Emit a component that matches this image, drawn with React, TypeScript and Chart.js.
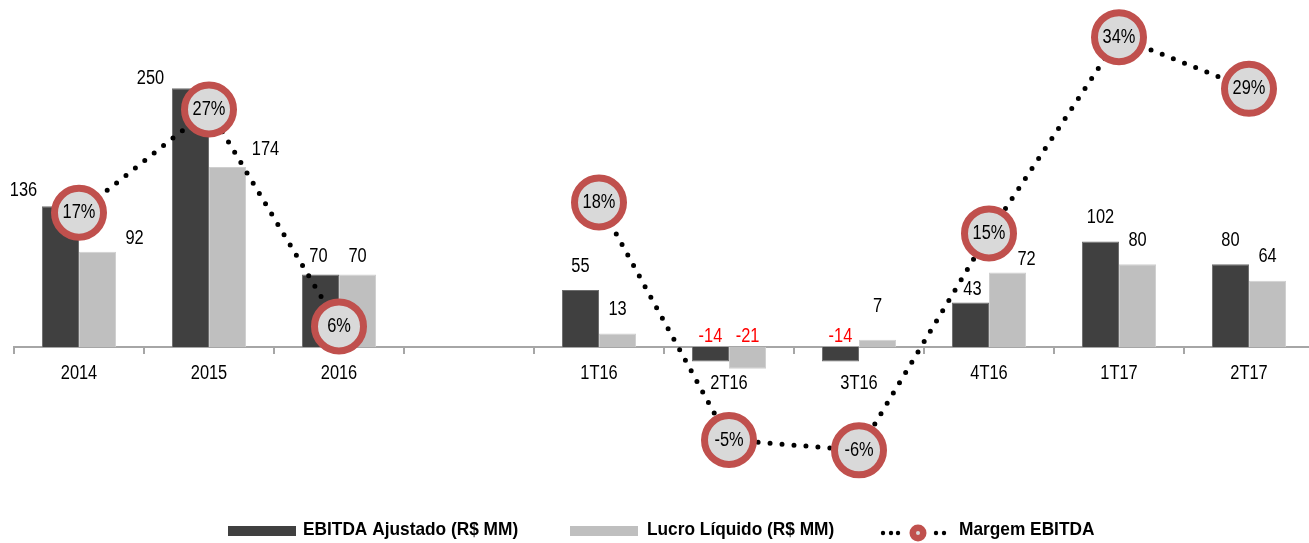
import { useEffect, useRef } from "react";
import { Chart, registerables } from "chart.js";

Chart.register(...registerables);

// Categories (an empty slot separates the annual and quarterly groups)
const categories = ["2014", "2015", "2016", "", "1T16", "2T16", "3T16", "4T16", "1T17", "2T17"];
// EBITDA Ajustado (R$ MM)
const ebitdaAjustado: (number | null)[] = [136, 250, 70, null, 55, -14, -14, 43, 102, 80];
// Lucro Líquido (R$ MM)
const lucroLiquido: (number | null)[] = [92, 174, 70, null, 13, -21, 7, 72, 80, 64];
// Margem EBITDA (%)
const margemEbitda: (number | null)[] = [17, 27, 6, null, 18, -5, -6, 15, 34, 29];

const legendLabels = ["EBITDA Ajustado (R$ MM)", "Lucro Líquido (R$ MM)", "Margem EBITDA"];

const FONT = '"Liberation Sans", Arial, sans-serif';
const DARK = "#404040";
const LIGHT = "#bfbfbf";
const RING = "#c0504d";
const DISC = "#d9d9d9";

// Hand placement of a few value labels so they clear the margin markers
const labelNudge: Record<string, [number, number]> = {
  "0-0": [-37, 8],
  "1-0": [37, 11],
  "0-1": [-40, 14],
  "1-1": [38, 7],
  "0-2": [-2, 6],
  "1-2": [0, 6],
  "1-6": [0, -9],
  "0-7": [2, 11],
  "1-7": [19, 11],
};

// Draw text horizontally condensed (narrow face look)
function condensedText(ctx: CanvasRenderingContext2D, text: string, x: number, y: number, sx: number) {
  ctx.save();
  ctx.translate(x, y);
  ctx.scale(sx, 1);
  ctx.fillText(text, 0, 0);
  ctx.restore();
}

const labelsPlugin = {
  id: "valueLabels",
  afterDatasetsDraw(chart: any) {
    const ctx: CanvasRenderingContext2D = chart.ctx;
    const xScale = chart.scales.x;
    const zero = chart.scales.y.getPixelForValue(0);
    const series = [ebitdaAjustado, lucroLiquido];
    const sx = 0.82;
    ctx.save();
    ctx.font = `20px ${FONT}`;
    ctx.textAlign = "center";
    ctx.textBaseline = "middle";

    series.forEach((values, di) => {
      const meta = chart.getDatasetMeta(di);
      meta.data.forEach((bar: any, i: number) => {
        const v = values[i];
        if (v == null) return;
        const [dx, dy] = labelNudge[`${di}-${i}`] || [0, 0];
        const y = v < 0 ? zero - 11 : bar.y - 24;
        ctx.fillStyle = v < 0 ? "#ff0000" : "#000000";
        condensedText(ctx, String(v), bar.x + dx, y + dy, sx);
      });
    });

    // category names under the axis; pushed lower where bars go negative
    ctx.fillStyle = "#000000";
    categories.forEach((c, i) => {
      if (!c) return;
      const neg = (ebitdaAjustado[i] ?? 0) < 0 || (lucroLiquido[i] ?? 0) < 0;
      condensedText(ctx, c, xScale.getPixelForValue(i), zero + 26 + (neg ? 10 : 0), sx);
    });

    // percentages inside the margin markers
    const lineMeta = chart.getDatasetMeta(2);
    lineMeta.data.forEach((pt: any, i: number) => {
      const v = margemEbitda[i];
      if (v == null) return;
      condensedText(ctx, `${v}%`, pt.x, pt.y, sx);
    });
    ctx.restore();
  },
  afterDraw(chart: any) {
    const ctx: CanvasRenderingContext2D = chart.ctx;
    const sx = 0.91;
    ctx.save();
    ctx.font = `bold 19px ${FONT}`;
    ctx.textAlign = "left";
    ctx.textBaseline = "alphabetic";

    // bar swatches
    ctx.fillStyle = DARK;
    ctx.fillRect(228, 526, 68, 10);
    ctx.fillStyle = LIGHT;
    ctx.fillRect(570, 526, 68, 10);
    ctx.fillStyle = "#000000";
    condensedText(ctx, legendLabels[0], 303, 535, sx);
    condensedText(ctx, legendLabels[1], 647, 535, sx);

    // dotted line swatch with marker
    const cy = 533;
    [883, 891, 898, 936, 944].forEach((x) => {
      ctx.beginPath();
      ctx.arc(x, cy, 2.2, 0, Math.PI * 2);
      ctx.fillStyle = "#000000";
      ctx.fill();
    });
    ctx.beginPath();
    ctx.arc(918, cy, 8.5, 0, Math.PI * 2);
    ctx.fillStyle = RING;
    ctx.fill();
    ctx.beginPath();
    ctx.arc(918, cy, 2, 0, Math.PI * 2);
    ctx.fillStyle = DISC;
    ctx.fill();

    ctx.fillStyle = "#000000";
    condensedText(ctx, legendLabels[2], 959, 535, sx);
    ctx.restore();
  },
};

export default function App() {
  const canvasRef = useRef<HTMLCanvasElement | null>(null);

  useEffect(() => {
    const canvas = canvasRef.current;
    if (!canvas) return;
    const chart = new Chart(canvas, {
      type: "bar",
      data: {
        labels: categories,
        datasets: [
          {
            type: "bar",
            label: legendLabels[0],
            data: ebitdaAjustado,
            backgroundColor: DARK,
            borderColor: "#6e6e6e",
            borderWidth: 1,
            yAxisID: "y",
            order: 1,
            categoryPercentage: 0.57,
            barPercentage: 1,
          },
          {
            type: "bar",
            label: legendLabels[1],
            data: lucroLiquido,
            backgroundColor: LIGHT,
            borderColor: "#cfcfcf",
            borderWidth: 1,
            yAxisID: "y",
            order: 1,
            categoryPercentage: 0.57,
            barPercentage: 1,
          },
          {
            type: "line",
            label: legendLabels[2],
            data: margemEbitda,
            yAxisID: "y1",
            order: 0,
            borderColor: "#000000",
            borderWidth: 5,
            borderDash: [0, 12],
            borderCapStyle: "round",
            spanGaps: false,
            tension: 0,
            fill: false,
            pointRadius: 24.5,
            pointHoverRadius: 24.5,
            pointBorderWidth: 7,
            pointHoverBorderWidth: 7,
            pointBackgroundColor: DISC,
            pointBorderColor: RING,
            clip: false,
          } as any,
        ],
      },
      options: {
        animation: false,
        responsive: false,
        events: [],
        layout: { autoPadding: false, padding: { left: 14, right: 2, top: 10, bottom: 50 } },
        plugins: {
          legend: { display: false },
          tooltip: { enabled: false },
        },
        scales: {
          x: {
            type: "category",
            position: { y: 0 } as any,
            offset: true,
            grid: {
              display: true,
              offset: true,
              drawOnChartArea: false,
              drawTicks: true,
              tickLength: 6,
              color: "#a6a6a6",
              lineWidth: 2,
            },
            border: { display: true, color: "#a6a6a6", width: 2 },
            ticks: { display: false },
          },
          y: {
            type: "linear",
            display: false,
            min: -141,
            max: 325.6,
          },
          y1: {
            type: "linear",
            display: false,
            min: -10.13,
            max: 36.63,
          },
        },
      } as any,
      plugins: [labelsPlugin],
    });
    return () => chart.destroy();
  }, []);

  return (
    <div
      style={{
        position: "fixed",
        left: 0,
        top: 0,
        width: 1309,
        height: 543,
        overflow: "hidden",
        background: "#ffffff",
      }}
    >
      <canvas ref={canvasRef} width={1316} height={543} style={{ width: 1316, height: 543, display: "block" }} />
    </div>
  );
}
